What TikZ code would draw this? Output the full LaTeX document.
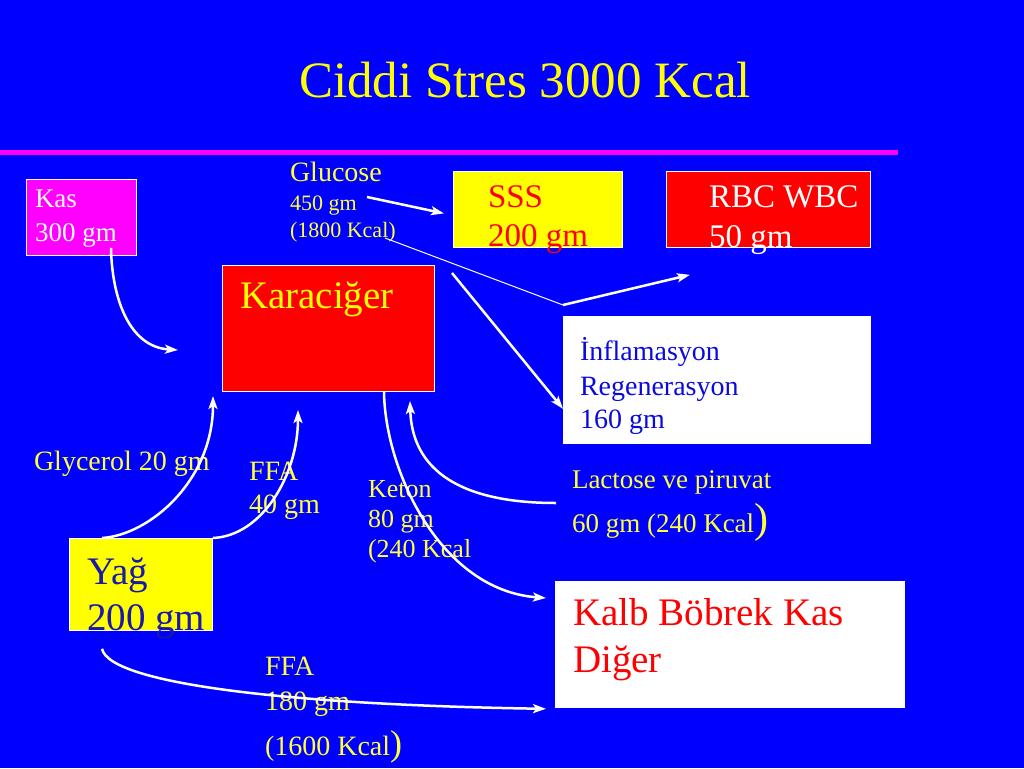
\documentclass[tikz,border=0pt]{standalone}
\usepackage{fontspec}
\setmainfont{Liberation Serif}
\usetikzlibrary{arrows.meta,calc}
\definecolor{bg}{RGB}{0,0,255}
\definecolor{mag}{RGB}{255,0,255}
\definecolor{ylw}{RGB}{255,255,0}
\definecolor{lylw}{RGB}{255,255,60}
\definecolor{rd}{RGB}{255,0,0}
\definecolor{dblue}{RGB}{25,25,170}
\definecolor{tblue}{RGB}{10,10,220}
\newcommand{\fsz}[1]{\fontsize{#1}{#1}\selectfont}
\begin{document}
\begin{tikzpicture}[x=1pt,y=-1pt,
  box/.style={draw=white, line width=0.8pt, anchor=north west, inner sep=0pt},
  txt/.style={anchor=base west, inner sep=0pt, outer sep=0pt},
  arr/.style={draw=white, line width=2.5pt, -{Stealth[length=13pt,width=9pt,inset=3pt]}},
  thinline/.style={draw=white, line width=1pt}
]
\fill[bg] (0,0) rectangle (1024,768);
\useasboundingbox (0,0) rectangle (1024,768);

% title and rule
\node[anchor=base, inner sep=0pt, text=ylw, font=\fsz{51}] (title) at (525,97) {Ciddi Stres 3000 Kcal};
\draw[mag, line width=5pt] (0,152) -- (898,152);

% boxes
\node[box, fill=mag, minimum width=110pt, minimum height=76pt] (kas) at (26,179) {};
\node[box, fill=ylw, minimum width=169pt, minimum height=76pt] (sss) at (453,171) {};
\node[box, fill=rd, minimum width=204pt, minimum height=76pt] (rbc) at (666,171) {};
\node[box, fill=rd, minimum width=212pt, minimum height=126pt] (liver) at (222,265) {};
\node[box, fill=white, minimum width=307pt, minimum height=127pt] (infl) at (563,316) {};
\node[box, fill=ylw, minimum width=143pt, minimum height=92pt] (yag) at (69,538) {};
\node[box, fill=white, minimum width=349pt, minimum height=126pt] (kalb) at (555,581) {};

% box texts
\node[txt, text=white, font=\fsz{27}] (kas1) at (35,207) {Kas};
\node[txt, text=white, font=\fsz{27}] (kas2) at (35,241) {300 gm};
\node[txt, text=rd, font=\fsz{33}] (sss1) at (488,207) {SSS};
\node[txt, text=rd, font=\fsz{33}] (sss2) at (488,246) {200 gm};
\node[txt, text=white, font=\fsz{33}] (rbc1) at (709,207) {RBC WBC};
\node[txt, text=white, font=\fsz{33}] (rbc2) at (709,247) {50 gm};
\node[txt, text=ylw, font=\fsz{39}] (liver1) at (240,308) {Karaciğer};
\node[txt, text=tblue, font=\fsz{28}] (infl1) at (580,360) {İnflamasyon};
\node[txt, text=tblue, font=\fsz{28}] (infl2) at (580,395) {Regenerasyon};
\node[txt, text=tblue, font=\fsz{28}] (infl3) at (580,428) {160 gm};
\node[txt, text=dblue, font=\fsz{39}] (yag1) at (87,584) {Yağ};
\node[txt, text=dblue, font=\fsz{39}] (yag2) at (87,630) {200 gm};
\node[txt, text=rd, font=\fsz{39}] (kalb1) at (573,625) {Kalb Böbrek Kas};
\node[txt, text=rd, font=\fsz{39}] (kalb2) at (573,672) {Diğer};

% labels
\node[txt, text=lylw, font=\fsz{28}] (glu1) at (290,181) {Glucose};
\node[txt, text=lylw, font=\fsz{22}] (glu2) at (290,210) {450 gm};
\node[txt, text=lylw, font=\fsz{22}] (glu3) at (290,237) {(1800 Kcal)};
\node[txt, text=lylw, font=\fsz{27}] (lac1) at (572,488) {Lactose ve piruvat};
\node[txt, text=lylw, font=\fsz{27}] (lac2) at (572,532) {60 gm (240 Kcal{\fsz{42})}};
\node[txt, text=lylw, font=\fsz{28}] (gly) at (34,470) {Glycerol 20 gm};
\node[txt, text=lylw, font=\fsz{28}] (ffa1) at (249,480) {FFA};
\node[txt, text=lylw, font=\fsz{28}] (ffa2) at (249,513) {40 gm};
\node[txt, text=lylw, font=\fsz{26}] (ket1) at (368,497) {Keton};
\node[txt, text=lylw, font=\fsz{26}] (ket2) at (368,527) {80 gm};
\node[txt, text=lylw, font=\fsz{26}] (ket3) at (368,557) {(240 Kcal};
\node[txt, text=lylw, font=\fsz{28}] (ffb1) at (265,675) {FFA};
\node[txt, text=lylw, font=\fsz{28}] (ffb2) at (265,710) {180 gm};
\node[txt, text=lylw, font=\fsz{28}] (ffb3) at (265,755) {(1600 Kcal{\fsz{36})}};

% free ends
\coordinate (kasend) at (178,350);
\coordinate (gstart) at (367,197);
\coordinate (gthin) at (385,238);
\coordinate (fork) at (563,305);
\coordinate (lstart) at (452,273);
\coordinate (glyend) at (213,396);
\coordinate (ffaend) at (298,410);
\coordinate (lacstart) at (556,503);
\coordinate (lacend) at (410,401);

% connectors
\draw[arr] ($(kas.south west)+(85,-8)$) .. controls (112,300) and (130,347) .. (kasend);
\draw[arr] (gstart) -- ($(sss.west)+(-9,4)$);
\draw[thinline] (gthin) -- (fork);
\draw[arr] (fork) -- ($(rbc.south west)+(24,27)$);
\draw[arr] (lstart) -- ($(infl.south west)+(0,-35)$);
\draw[arr] ($(yag.north west)+(33,0)$) .. controls (150,535) and (213,480) .. (glyend);
\draw[arr] (yag.north east) .. controls (262,536) and (298,475) .. (ffaend);
\draw[arr] ($(liver.south west)+(162,0)$) .. controls (385,470) and (440,590) .. ($(kalb.north west)+(-9,17)$);
\draw[arr] (lacstart) .. controls (460,503) and (412,470) .. (lacend);
\draw[arr] ($(yag.south west)+(33,18)$) .. controls (110,685) and (300,705) .. ($(kalb.south west)+(-9,1)$);
\end{tikzpicture}
\end{document}
